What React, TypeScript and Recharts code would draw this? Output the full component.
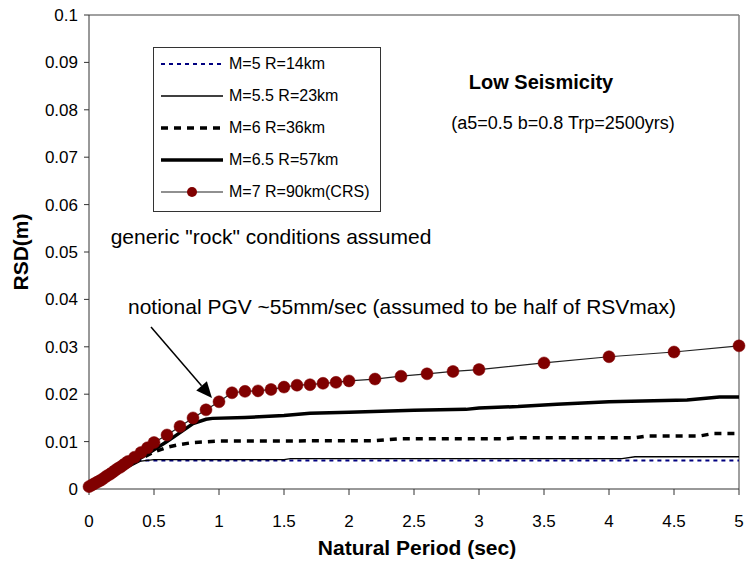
import React from "react";
import { LineChart, Line, XAxis, YAxis, ReferenceLine, Legend } from "recharts";

const xTicks = [0, 0.5, 1, 1.5, 2, 2.5, 3, 3.5, 4, 4.5, 5];
const yTicks = [0, 0.01, 0.02, 0.03, 0.04, 0.05, 0.06, 0.07, 0.08, 0.09, 0.1];

// M=5 R=14km
const m5T = [0, 0.1, 0.2, 0.3, 0.38, 5];
const m5V = [0, 0.0016, 0.0032, 0.0047, 0.006, 0.006];

// M=5.5 R=23km
const m55T = [0, 0.1, 0.2, 0.3, 0.4, 0.5, 1.5, 1.55, 4.1, 4.2, 5];
const m55V = [0, 0.0015, 0.003, 0.0045, 0.0059, 0.0062, 0.0062, 0.0064, 0.0064, 0.0068, 0.0068];

// M=6 R=36km
const m6T = [0, 0.1, 0.2, 0.3, 0.4, 0.5, 0.6, 0.7, 0.8, 1.0, 2.2, 2.4, 3.2, 3.3, 4.2, 4.3, 4.7, 4.8, 5];
const m6V = [0, 0.0017, 0.0033, 0.0049, 0.0064, 0.0078, 0.0088, 0.0094, 0.0098, 0.0101, 0.0102, 0.0106, 0.0106, 0.0108, 0.0108, 0.0112, 0.0112, 0.0117, 0.0117];

// M=6.5 R=57km
const m65T = [0, 0.1, 0.2, 0.3, 0.4, 0.5, 0.6, 0.7, 0.8, 0.9, 0.95, 1.2, 1.5, 1.7, 2.0, 2.5, 2.9, 3.0, 3.3, 3.6, 4.0, 4.6, 4.85, 5];
const m65V = [0, 0.0017, 0.0034, 0.005, 0.0066, 0.0083, 0.01, 0.0119, 0.0138, 0.0147, 0.0149, 0.0151, 0.0155, 0.016, 0.0162, 0.0166, 0.0168, 0.0171, 0.0174, 0.0179, 0.0184, 0.0188, 0.0194, 0.0194];

// M=7 R=90km(CRS)
const m7T = [0, 0.02, 0.04, 0.06, 0.08, 0.1, 0.12, 0.14, 0.16, 0.18, 0.2, 0.22, 0.24, 0.26, 0.28, 0.3, 0.35, 0.4, 0.45, 0.5, 0.6, 0.7, 0.8, 0.9, 1.0, 1.1, 1.2, 1.3, 1.4, 1.5, 1.6, 1.7, 1.8, 1.9, 2.0, 2.2, 2.4, 2.6, 2.8, 3.0, 3.5, 4.0, 4.5, 5.0];
const m7V = [0.0005, 0.0008, 0.0011, 0.0014, 0.0017, 0.002, 0.0024, 0.0028, 0.0031, 0.0035, 0.0039, 0.0043, 0.0046, 0.005, 0.0054, 0.0058, 0.0067, 0.0077, 0.0087, 0.0098, 0.0114, 0.0132, 0.015, 0.0167, 0.0184, 0.0203, 0.0206, 0.0207, 0.021, 0.0215, 0.0219, 0.022, 0.0223, 0.0225, 0.0228, 0.0232, 0.0238, 0.0243, 0.0248, 0.0252, 0.0266, 0.0279, 0.0289, 0.0302];

const rows = (t: number[], v: number[]) => t.map((x, i) => ({ t: x, v: v[i] }));

const FONT = "'Liberation Sans', Arial, sans-serif";
const MAROON = "#800000";

const series = [
  { name: "M=5 R=14km", data: rows(m5T, m5V), stroke: "#000080", width: 2, dash: "4 4", dot: false },
  { name: "M=5.5 R=23km", data: rows(m55T, m55V), stroke: "#000", width: 1.3, dash: undefined, dot: false },
  { name: "M=6 R=36km", data: rows(m6T, m6V), stroke: "#000", width: 3.5, dash: "7 6", dot: false },
  { name: "M=6.5 R=57km", data: rows(m65T, m65V), stroke: "#000", width: 3.5, dash: undefined, dot: false },
  { name: "M=7 R=90km(CRS)", data: rows(m7T, m7V), stroke: "#222", width: 1.2, dash: undefined, dot: true },
];

const LegendBox = () => (
  <div
    style={{
      position: "relative",
      width: 228,
      height: 165,
      boxSizing: "border-box",
      border: "1px solid #333",
      background: "#fff",
      fontFamily: FONT,
      fontSize: 16,
      color: "#000",
    }}
  >
    {series.map((s, i) => (
      <div key={s.name} style={{ position: "absolute", left: 0, top: 16 + i * 32 - 8, height: 16, width: 226 }}>
        <svg width={64} height={16} style={{ position: "absolute", left: 7, top: 0 }}>
          <line x1={0} y1={8} x2={62} y2={8} stroke={s.stroke} strokeWidth={s.width} strokeDasharray={s.dash} />
          {s.dot && <circle cx={31} cy={8} r={5} fill={MAROON} />}
        </svg>
        <span style={{ position: "absolute", left: 75, top: -1, lineHeight: "18px", whiteSpace: "nowrap" }}>{s.name}</span>
      </div>
    ))}
  </div>
);

const Arrow = (props: any) => {
  const { x1, y1, x2, y2 } = props;
  const dx = x2 - x1;
  const dy = y2 - y1;
  const len = Math.sqrt(dx * dx + dy * dy);
  const ux = dx / len;
  const uy = dy / len;
  const hl = 16;
  const hw = 7;
  const bx = x2 - ux * hl;
  const by = y2 - uy * hl;
  return (
    <g>
      <line x1={x1} y1={y1} x2={bx} y2={by} stroke="#000" strokeWidth={1.5} />
      <polygon
        points={`${x2},${y2} ${bx - uy * hw},${by + ux * hw} ${bx + uy * hw},${by - ux * hw}`}
        fill="#000"
      />
    </g>
  );
};

const text = (s: React.CSSProperties): React.CSSProperties => ({
  position: "absolute",
  transform: "translate(-50%, -50%)",
  whiteSpace: "nowrap",
  fontFamily: FONT,
  color: "#000",
  ...s,
});

export default function App() {
  return (
    <div style={{ position: "absolute", left: 0, top: 0, width: 746, height: 577, background: "#fff" }}>
      <LineChart
        width={746}
        height={577}
        margin={{ top: 15, right: 7, left: 0, bottom: 0 }}
        style={{ fontFamily: FONT }}
      >
        <XAxis
          dataKey="t"
          type="number"
          domain={[0, 5]}
          ticks={xTicks}
          height={88}
          tickSize={6}
          tickMargin={20}
          stroke="#333"
          tick={{ fill: "#000", fontSize: 17 }}
          allowDuplicatedCategory={false}
        />
        <YAxis
          type="number"
          domain={[0, 0.1]}
          ticks={yTicks}
          width={89}
          tickSize={5}
          tickMargin={6}
          stroke="#333"
          tick={{ fill: "#000", fontSize: 17 }}
          tickFormatter={(v: number) => String(v)}
        />
        <ReferenceLine y={0.1} stroke="#808080" strokeWidth={1.5} />
        <ReferenceLine x={5} stroke="#808080" strokeWidth={1.5} />
        <ReferenceLine
          segment={[
            { x: 0.477, y: 0.0342 },
            { x: 0.946, y: 0.0192 },
          ]}
          shape={Arrow}
        />
        {series.map((s) => (
          <Line
            key={s.name}
            data={s.data}
            dataKey="v"
            name={s.name}
            type="linear"
            stroke={s.stroke}
            strokeWidth={s.width}
            strokeDasharray={s.dash}
            dot={s.dot ? { r: 6, fill: MAROON, stroke: MAROON, strokeWidth: 0.5 } : false}
            activeDot={false}
            isAnimationActive={false}
          />
        ))}
        <Legend
          layout="horizontal"
          verticalAlign="middle"
          align="center"
          content={() => <LegendBox />}
          wrapperStyle={{ left: 153, top: 47, width: 228, height: 165 }}
        />
      </LineChart>

      <div style={text({ left: 541, top: 82, fontSize: 20, fontWeight: "bold" })}>Low Seismicity</div>
      <div style={text({ left: 563, top: 123, fontSize: 18 })}>(a5=0.5 b=0.8 Trp=2500yrs)</div>
      <div style={text({ left: 271, top: 237, fontSize: 21 })}>generic "rock" conditions assumed</div>
      <div style={text({ left: 402, top: 307, fontSize: 21 })}>
        notional PGV ~55mm/sec (assumed to be half of RSVmax)
      </div>
      <div style={text({ left: 417, top: 548, fontSize: 21, fontWeight: "bold" })}>Natural Period (sec)</div>
      <div style={text({ left: 21, top: 252, fontSize: 21, fontWeight: "bold", transform: "translate(-50%, -50%) rotate(-90deg)" })}>
        RSD(m)
      </div>
    </div>
  );
}
